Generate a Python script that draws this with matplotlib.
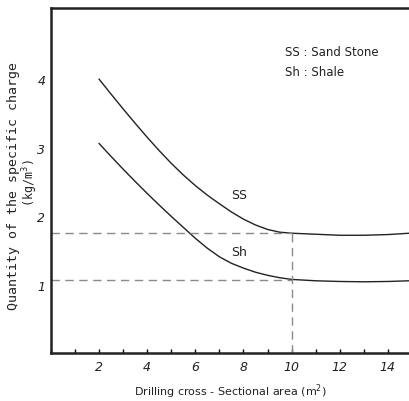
import matplotlib
matplotlib.use("Agg")
import matplotlib.pyplot as plt
from matplotlib.ticker import MultipleLocator

# values
ss_x = [2, 2.5, 3, 3.5, 4, 4.5, 5, 5.5, 6, 6.5, 7, 7.5, 8, 8.5, 9, 9.5, 10, 11, 12, 13, 14, 14.9]
ss_y = [4.0, 3.78, 3.565, 3.355, 3.15, 2.955, 2.77, 2.60, 2.445, 2.305, 2.18, 2.06, 1.955, 1.87,
        1.805, 1.765, 1.75, 1.735, 1.72, 1.72, 1.73, 1.75]
sh_x = [2, 2.5, 3, 3.5, 4, 4.5, 5, 5.5, 6, 6.5, 7, 7.5, 8, 8.5, 9, 9.5, 10, 11, 12, 13, 14, 14.9]
sh_y = [3.06, 2.87, 2.685, 2.505, 2.33, 2.16, 1.995, 1.835, 1.675, 1.53, 1.405, 1.31, 1.24, 1.18,
        1.135, 1.10, 1.075, 1.055, 1.045, 1.04, 1.045, 1.055]
ref_x = 10
ref_ss = 1.75
ref_sh = 1.07
xticks = [2, 4, 6, 8, 10, 12, 14]
yticks = [1, 2, 3, 4]

fig = plt.figure(figsize=(4.10, 4.02), dpi=100)
ax = fig.add_axes([51 / 410, 48 / 402, 1 - 51 / 410, 345 / 402])

ink = "#222222"
dash = "#8a8a8a"

ax.plot(ss_x, ss_y, color=ink, lw=1.0)
ax.plot(sh_x, sh_y, color=ink, lw=1.0)

# reference lines at 10 m2
ax.plot([0, ref_x], [ref_ss, ref_ss], color=dash, lw=1.0, ls=(0, (6, 4)))
ax.plot([0, ref_x], [ref_sh, ref_sh], color=dash, lw=1.0, ls=(0, (6, 4)))
ax.plot([ref_x, ref_x], [0, ref_ss], color=dash, lw=1.0, ls=(0, (6, 4)))

ax.text(7.83, 2.32, "SS", ha="center", va="center", fontsize=9, color=ink)
ax.text(7.83, 1.49, "Sh", ha="center", va="center", fontsize=9, color=ink)
ax.text(0.652, 0.875, "SS : Sand Stone", transform=ax.transAxes, fontsize=8.5, color=ink,
        va="center", ha="left")
ax.text(0.652, 0.817, "Sh : Shale", transform=ax.transAxes, fontsize=8.5, color=ink,
        va="center", ha="left")

ax.set_xlim(0, 14.92)
ax.set_ylim(0, 5.04)
ax.set_xticks(xticks)
ax.set_xticklabels([str(t) for t in xticks], fontstyle="italic", fontsize=9, color=ink)
ax.xaxis.set_minor_locator(MultipleLocator(1))
ax.tick_params(axis="x", which="both", direction="in", length=3, width=1, pad=5)
ax.set_yticks(yticks)
ax.set_yticklabels([str(t) for t in yticks], fontstyle="italic", fontsize=9, color=ink)
ax.tick_params(axis="y", length=0, pad=4)

for side in ["left", "bottom", "top"]:
    ax.spines[side].set_linewidth(1.8)
    ax.spines[side].set_color(ink)
ax.spines["right"].set_visible(False)

fig.text(230 / 410, 1 - 392 / 402, "Drilling cross - Sectional area (m$^2$)",
         ha="center", va="center", fontsize=8, color=ink)
fig.text(14 / 410, 1 - 186 / 402, "Quantity of the specific charge", rotation=90,
         ha="center", va="center", fontsize=9.5, color=ink, family="DejaVu Sans Mono")
fig.text(30 / 410, 1 - 183 / 402, "(kg/m$^3$)", rotation=90,
         ha="center", va="center", fontsize=8.5, color=ink, family="DejaVu Sans Mono")

fig.savefig("out.png", dpi=100)
